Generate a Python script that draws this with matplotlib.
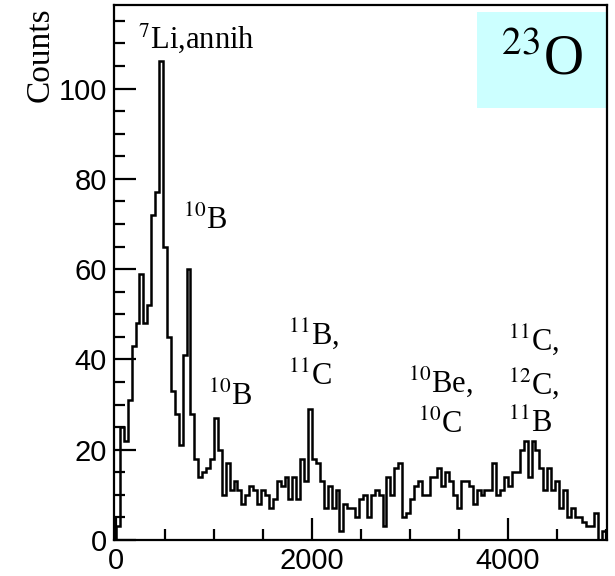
import numpy as np
import matplotlib
matplotlib.use("Agg")
import matplotlib.pyplot as plt
import matplotlib.ticker as ticker
from matplotlib.patches import Rectangle

# energy bins, 40 keV wide, 0 - 5000 keV
bin_edges = np.arange(0, 5001, 40)
counts = [
    3, 25, 22, 31, 43, 48, 59, 48, 52, 72,
    77, 106, 65, 45, 33, 28, 21, 41, 60, 28,
    18, 14, 15, 16, 18, 27, 20, 10, 17, 11,
    13, 11, 8, 10, 12, 11, 8, 11, 10, 7,
    9, 13, 12, 14, 9, 14, 9, 18, 13, 29,
    18, 17, 13, 7, 12, 7, 11, 2, 8, 7,
    7, 5, 9, 10, 5, 10, 11, 10, 3, 14,
    10, 16, 17, 5, 6, 9, 12, 13, 10, 10,
    14, 14, 16, 12, 15, 13, 10, 7, 13, 13,
    12, 8, 11, 10, 11, 11, 17, 10, 11, 14,
    12, 15, 15, 20, 22, 14, 22, 20, 16, 11,
    16, 11, 13, 7, 11, 5, 7, 5, 5, 4,
    3, 3, 6, 0, 2,
]

# peak labels: text, x (keV), y (counts) of the baseline-left corner
peak_labels = [
    (r"$^{7}$Li,annih", 225, 109),
    (r"$^{10}$B", 684, 69),
    (r"$^{10}$B", 939, 30),
    (r"$^{11}$B,", 1755, 43.5),
    (r"$^{11}$C", 1755, 34.3),
    (r"$^{10}$Be,", 2980, 32.8),
    (r"$^{10}$C", 3082, 23.7),
    (r"$^{11}$C,", 4000, 42.1),
    (r"$^{12}$C,", 4000, 32.4),
    (r"$^{11}$B", 4000, 24.0),
]

plt.rcParams["mathtext.fontset"] = "stix"

fig = plt.figure(figsize=(6.15, 5.76), dpi=100)
ax = fig.add_axes([114 / 615, 36 / 576, 493 / 615, 535 / 576])

ax.stairs(counts, bin_edges, color="black", linewidth=1.8)

ax.set_xlim(-20, 5010)
ax.set_ylim(0, 118.5)

for sp in ax.spines.values():
    sp.set_linewidth(1.6)

ax.xaxis.set_major_locator(ticker.MultipleLocator(2000))
ax.xaxis.set_minor_locator(ticker.MultipleLocator(500))
ax.yaxis.set_major_locator(ticker.MultipleLocator(20))
ax.yaxis.set_minor_locator(ticker.MultipleLocator(5))
ax.tick_params(which="both", direction="in", top=False, right=False, width=1.6)
ax.tick_params(which="major", length=16, labelsize=21, pad=5)
ax.tick_params(which="minor", length=8)
for lab in ax.get_xticklabels() + ax.get_yticklabels():
    lab.set_fontfamily("Liberation Sans")

ax.text(-0.18, 0.995, "Counts", transform=ax.transAxes, rotation=90,
        ha="left", va="top", fontsize=24, family="Liberation Serif")

for txt, xv, yv in peak_labels:
    ax.text(xv, yv, txt, ha="left", va="baseline", fontsize=22,
            family="Liberation Serif")

# nucleus box in the upper right corner
ax.add_patch(Rectangle((0.736, 0.807), 0.264, 0.18, transform=ax.transAxes,
                       facecolor="#ccffff", edgecolor="none", zorder=0))
ax.text(0.868, 0.897, r"$^{23}$O", transform=ax.transAxes, ha="center",
        va="center", fontsize=40, family="Liberation Serif")

fig.savefig("out.png", dpi=100)
